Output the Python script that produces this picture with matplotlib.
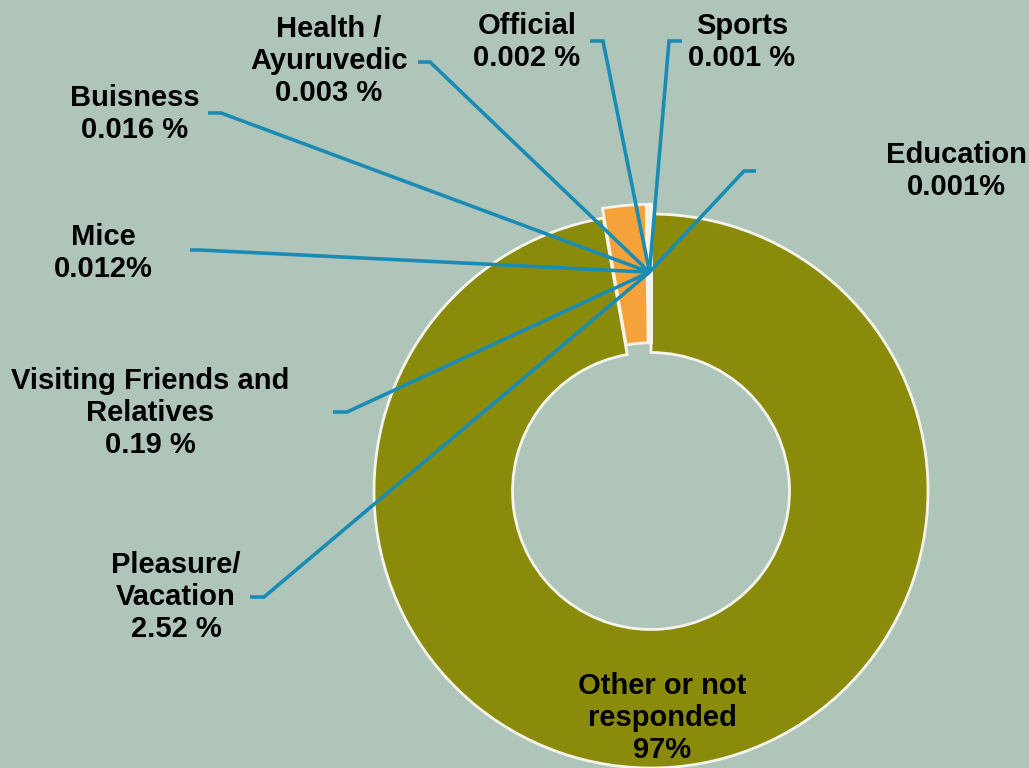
import matplotlib
matplotlib.use('Agg')
import matplotlib.pyplot as plt
import numpy as np

# ---------------- data ----------------
categories = ["Other or not responded", "Pleasure/ Vacation",
              "Visiting Friends and Relatives", "Mice", "Buisness",
              "Health / Ayuruvedic", "Official", "Sports", "Education"]
values = [97, 2.52, 0.19, 0.012, 0.016, 0.003, 0.002, 0.001, 0.001]
label_texts = ["Other or not\nresponded\n97%",
               "Pleasure/\nVacation\n2.52 %",
               "Visiting Friends and\nRelatives\n0.19 %",
               "Mice\n0.012%",
               "Buisness\n0.016 %",
               "Health /\nAyuruvedic\n0.003 %",
               "Official\n0.002 %",
               "Sports\n0.001 %",
               "Education\n0.001%"]

# ---------------- style / layout ----------------
W, H = 1029, 768
BG = '#B0C5BA'
OLIVE = '#8A8A0B'
ORANGE = '#F6A23A'
SMALL = '#E2E2DC'
LEADER = '#1A8CB4'
colors = [OLIVE, ORANGE] + [SMALL] * 7

cx, cy = 651, H - 491       # pie centre in pixel-like data coords
R = 277
# matplotlib applies explode as an absolute offset in data units
explode = [0] + [0.035 * R] * 8

# label centres (x, y from top) and short leader ticks
label_pos = [(662, 718), (176, 597), (150, 413), (103, 253), (135, 114),
             (329, 61), (527, 42), (742, 42), (956, 171)]
ticks = [None,
         ((250, 597), (264, 597)),
         ((333, 412), (347, 412)),
         ((190, 250), (200, 250)),
         ((208, 113), (221, 113)),
         ((418, 62), (430, 62)),
         ((590, 41), (603, 41)),
         ((682, 41), (669, 41)),
         ((756, 171), (744, 171))]

fig = plt.figure(figsize=(W / 100, H / 100), dpi=100, facecolor=BG)
ax = fig.add_axes([0, 0, 1, 1])
ax.set_facecolor(BG)

wedges, _ = ax.pie(values, colors=colors, explode=explode, startangle=90,
                   counterclock=False, center=(cx, cy), radius=R,
                   wedgeprops=dict(width=R * 0.5, edgecolor='#F4F4EA',
                                   linewidth=2.0))
ax.set_xlim(0, W)
ax.set_ylim(0, H)
ax.set_aspect('auto')
ax.axis('off')

# convergence point of leader lines: middle of the small slices at ~0.79 R
small = wedges[2:]
a1 = min(min(w.theta1, w.theta2) for w in small)
a2 = max(max(w.theta1, w.theta2) for w in small)
amid = np.deg2rad((a1 + a2) / 2)
px = cx + 0.79 * R * np.cos(amid)
py = cy + 0.79 * R * np.sin(amid)

for i, tk in enumerate(ticks):
    if tk is None:
        continue
    (x0, y0), (x1, y1) = tk
    ax.plot([x0, x1, px], [H - y0, H - y1, py], color=LEADER, lw=2.6,
            solid_capstyle='butt', solid_joinstyle='miter', zorder=5)

for txt, (x, y) in zip(label_texts, label_pos):
    ax.text(x, H - y, txt, ha='center', va='center', multialignment='center',
            fontsize=21, fontweight='bold', family='Liberation Sans',
            linespacing=1.17, color='black', zorder=6)

fig.savefig('out.png', dpi=100, facecolor=BG)
